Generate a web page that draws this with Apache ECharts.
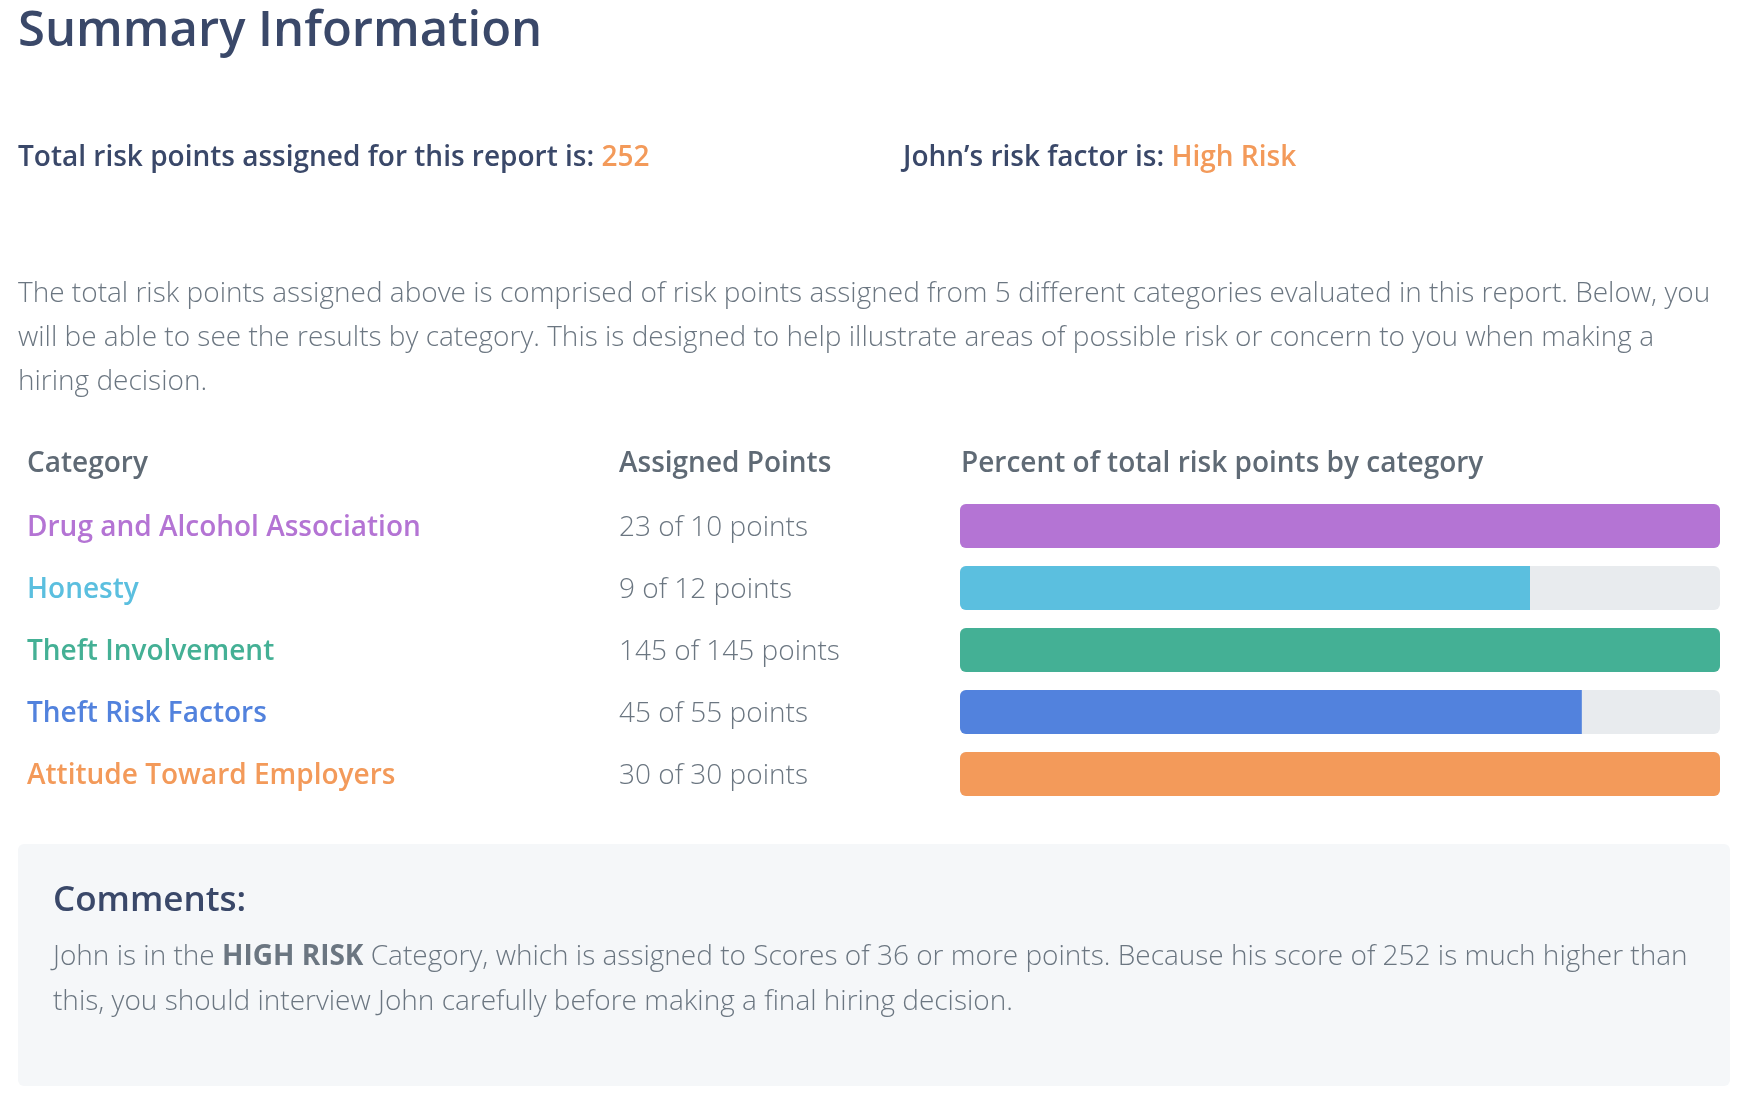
<!DOCTYPE html>
<html>
<head>
<meta charset="utf-8">
<script src="https://cdn.jsdelivr.net/npm/echarts@6/dist/echarts.min.js"></script>
<style>
  html, body { margin: 0; padding: 0; background: #ffffff; }
  #chart { width: 1746px; height: 1102px; }
</style>
</head>
<body>
<div id="chart"></div>
<script>
// ---- Data ----
const categories = ['Drug and Alcohol Association', 'Honesty', 'Theft Involvement', 'Theft Risk Factors', 'Attitude Toward Employers'];
const assignedPoints = [23, 9, 145, 45, 30];
const maxPoints = [10, 12, 145, 55, 30];
const candidateName = 'John';
const riskFactor = 'High Risk';
const highRiskThreshold = 36;

// ---- Styles ----
const categoryColors = ['#b474d4', '#5bbfdf', '#44b095', '#5282dd', '#f39a5a'];
const NAVY = '#3a4869';
const GRAY = '#6b7681';
const HEAD = '#5f6a75';
const ORANGE = '#f39a5a';
const FONT = '"Open Sans", "Noto Sans", sans-serif';
const FS = 28;

const totalPoints = assignedPoints.reduce((a, b) => a + b, 0);
const percents = assignedPoints.map((v, i) => Math.min(100, v / maxPoints[i] * 100));

const rich = {
  p: { color: GRAY, fontSize: FS, fontWeight: 300, fontFamily: FONT }
};
categoryColors.forEach((c, i) => {
  rich['c' + i] = { color: c, fontSize: FS, fontWeight: 600, fontFamily: FONT, width: 592 };
});

const chart = echarts.init(document.getElementById('chart'), null, { renderer: 'canvas' });
chart.setOption({
  animation: false,
  backgroundColor: '#ffffff',
  grid: { left: 960, width: 760, top: 495, height: 310, containLabel: false },
  xAxis: { type: 'value', min: 0, max: 100, show: false },
  yAxis: {
    type: 'category',
    data: categories,
    inverse: true,
    axisLine: { show: false },
    axisTick: { show: false },
    splitLine: { show: false },
    axisLabel: {
      align: 'left',
      verticalAlign: 'middle',
      margin: 933,
      padding: [5, 0, 0, 0],
      formatter: (value, index) => `{c${index}|${value}}{p|${assignedPoints[index]} of ${maxPoints[index]} points}`,
      rich: rich
    }
  },
  series: [{
    type: 'bar',
    barWidth: 44,
    showBackground: true,
    backgroundStyle: { color: '#e8ebee', borderRadius: 6 },
    data: percents.map((v, i) => ({
      value: v,
      itemStyle: {
        color: categoryColors[i],
        borderRadius: v >= 100 ? 6 : [6, 0, 0, 6]
      }
    }))
  }],
  graphic: [
    { type: 'text', x: 18, y: 32, style: { text: 'Summary Information', fontSize: 49, fontWeight: 600, fontFamily: FONT, fill: NAVY, verticalAlign: 'middle' } },
    { type: 'text', x: 18, y: 158, style: { text: `{a|Total risk points assigned for this report is: }{b|${totalPoints}}`, verticalAlign: 'middle',
        rich: { a: { fontSize: FS, fontWeight: 600, fontFamily: FONT, fill: NAVY }, b: { fontSize: FS, fontWeight: 600, fontFamily: FONT, fill: ORANGE } } } },
    { type: 'text', x: 903, y: 158, style: { text: `{a|${candidateName}\u2019s risk factor is: }{b|${riskFactor}}`, verticalAlign: 'middle',
        rich: { a: { fontSize: FS, fontWeight: 600, fontFamily: FONT, fill: NAVY }, b: { fontSize: FS, fontWeight: 600, fontFamily: FONT, fill: ORANGE } } } },
    { type: 'text', x: 18, y: 272, style: {
        text: 'The total risk points assigned above is comprised of risk points assigned from ' + categories.length + ' different categories evaluated in this report. Below, you\nwill be able to see the results by category. This is designed to help illustrate areas of possible risk or concern to you when making a\nhiring decision.',
        fontSize: FS, fontWeight: 300, fontFamily: FONT, fill: GRAY, lineHeight: 44, verticalAlign: 'top' } },
    { type: 'text', x: 27, y: 464, style: { text: 'Category', fontSize: FS, fontWeight: 600, fontFamily: FONT, fill: HEAD, verticalAlign: 'middle' } },
    { type: 'text', x: 619, y: 464, style: { text: 'Assigned Points', fontSize: FS, fontWeight: 600, fontFamily: FONT, fill: HEAD, verticalAlign: 'middle' } },
    { type: 'text', x: 961, y: 464, style: { text: 'Percent of total risk points by category', fontSize: FS, fontWeight: 600, fontFamily: FONT, fill: HEAD, verticalAlign: 'middle' } },
    { type: 'rect', shape: { x: 18, y: 844, width: 1712, height: 242, r: 6 }, style: { fill: '#f5f7f9' }, z: -1 },
    { type: 'text', x: 53, y: 901, style: { text: 'Comments:', fontSize: 35, fontWeight: 600, fontFamily: FONT, fill: NAVY, verticalAlign: 'middle' } },
    { type: 'text', x: 53, y: 935, style: {
        text: `{n|${candidateName} is in the }{b|HIGH RISK}{n| Category, which is assigned to Scores of ${highRiskThreshold} or more points. Because his score of ${totalPoints} is much higher than}\n{n|this, you should interview ${candidateName} carefully before making a final hiring decision.}`,
        verticalAlign: 'top', lineHeight: 45,
        rich: {
          n: { fontSize: FS, fontWeight: 300, fontFamily: FONT, fill: GRAY, lineHeight: 45 },
          b: { fontSize: FS, fontWeight: 700, fontFamily: FONT, fill: GRAY, lineHeight: 45 }
        } } }
  ]
});
</script>
</body>
</html>
